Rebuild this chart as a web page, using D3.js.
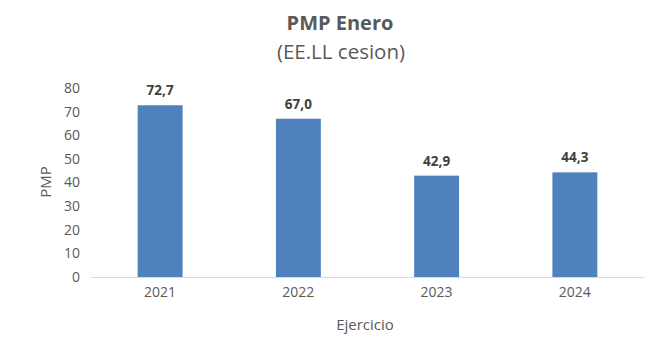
<!DOCTYPE html>
<html><head><meta charset="utf-8">
<script src="https://cdn.jsdelivr.net/npm/d3@7"></script>
<style>body{margin:0;background:#fff}svg{display:block}text{font-family:"Open Sans",sans-serif}</style>
</head><body><svg id="c" width="670" height="347"></svg>
<script>
const categories = ["2021","2022","2023","2024"];
const values = [72.7, 67.0, 42.9, 44.3];
const yTicks = [0,10,20,30,40,50,60,70,80];

const svg = d3.select("#c");
const x = d3.scaleBand().domain(categories).range([91,644]).paddingInner(0.675).paddingOuter(0.3375);
const y = d3.scaleLinear().domain([0,80]).range([277,88]);

svg.append("text").attr("x",340).attr("y",30).attr("text-anchor","middle")
  .attr("font-size",20).attr("font-weight","bold").attr("fill","#595959").text("PMP Enero");
svg.append("text").attr("x",341).attr("y",59).attr("text-anchor","middle")
  .attr("font-size",20.5).attr("fill","#595959").text("(EE.LL cesion)");

const ya = svg.append("g").attr("transform","translate(80,0)")
  .call(d3.axisLeft(y).tickValues(yTicks).tickSize(0).tickPadding(0));
ya.select(".domain").remove();
ya.selectAll("text").attr("font-size",14).attr("fill","#595959").attr("font-family","Open Sans");

svg.append("line").attr("x1",91).attr("x2",644).attr("y1",y(0)+0.5).attr("y2",y(0)+0.5)
  .attr("stroke","#D9D9D9").attr("stroke-width",1);

svg.selectAll("rect.bar").data(values).join("rect").attr("class","bar")
  .attr("x",(d,i)=>x(categories[i])).attr("width",x.bandwidth())
  .attr("y",d=>y(d)).attr("height",d=>y(0)-y(d)).attr("fill","#4F81BD");

svg.selectAll("text.lbl").data(values).join("text").attr("class","lbl")
  .attr("x",(d,i)=>x(categories[i])+x.bandwidth()/2).attr("y",d=>y(d)-10)
  .attr("text-anchor","middle").attr("font-size",13.5).attr("font-weight","bold").attr("fill","#404040")
  .text(d=>d.toFixed(1).replace(".",","));

const xa = svg.append("g").attr("transform",`translate(0,${y(0)})`)
  .call(d3.axisBottom(x).tickSize(0).tickPadding(10));
xa.select(".domain").remove();
xa.selectAll("text").attr("font-size",14).attr("fill","#595959").attr("font-family","Open Sans");

svg.append("text").attr("transform","translate(51,182) rotate(-90)").attr("text-anchor","middle")
  .attr("font-size",15).attr("fill","#595959").text("PMP");
svg.append("text").attr("x",365).attr("y",330).attr("text-anchor","middle")
  .attr("font-size",15).attr("fill","#595959").text("Ejercicio");
</script></body></html>
